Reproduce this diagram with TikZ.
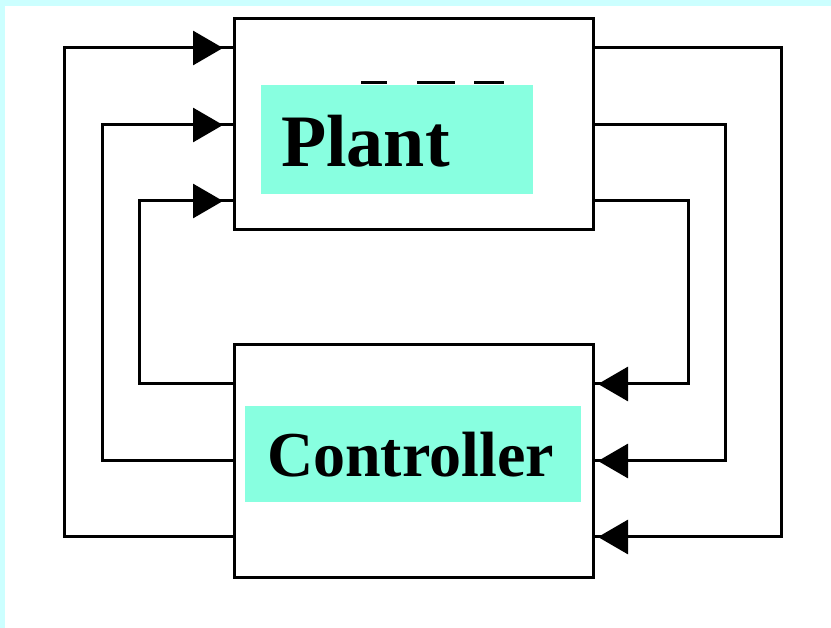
\documentclass[tikz,border=0pt]{standalone}
\usepackage{fontspec}
\setmainfont{Liberation Serif}
\usetikzlibrary{arrows.meta,decorations.markings}
\definecolor{bordercyan}{RGB}{204,255,255}
\definecolor{labelfill}{RGB}{136,255,224}
\tikzset{
  x=1pt, y=-1pt,
  block/.style={draw, line width=3pt, fill=none, outer sep=0pt, inner sep=0pt, rectangle},
  conn/.style={line width=3pt, line join=miter},
  arrtip/.style={postaction={decorate}, decoration={markings, mark=at position #1 with {\arrow{Triangle[length=30pt,width=34pt]}}}},
  labelbg/.style={fill=labelfill, draw=none},
  labeltext/.style={anchor=base west, inner sep=0pt, font=\bfseries\fontsize{#1}{#1}\selectfont}
}
\begin{document}
\begin{tikzpicture}
\useasboundingbox (0,0) rectangle (831,628);
\fill[white] (0,0) rectangle (831,628);
\fill[bordercyan] (0,0) rectangle (831,6);
\fill[bordercyan] (0,0) rectangle (5,628);
% boxes
\node[block, minimum width=359pt, minimum height=211pt] (plant) at (413.5,124.5) {};
\node[block, minimum width=359pt, minimum height=232pt] (ctrl) at (413.5,461) {};
% small marks
\draw[line width=3pt] (361,83) -- (387,83) (417,83) -- (455,83) (474,83) -- (504,83);
% labels
\fill[labelbg] (261,85) rectangle (533,194);
\node[labeltext=74] (plabel) at (281,167) {Plant};
\fill[labelbg] (245,406) rectangle (581,502);
\node[labeltext=64] (clabel) at (267,477) {Controller};
% left connectors (controller -> plant)
\draw[conn, arrtip=-11pt] (ctrl.west |- 0,537) -- (64,537) |- (plant.west |- 0,48);
\draw[conn, arrtip=-11pt] (ctrl.west |- 0,461) -- (102,461) |- (plant.west |- 0,125);
\draw[conn, arrtip=-11pt] (ctrl.west |- 0,384) -- (139,384) |- (plant.west |- 0,201);
% right connectors (plant -> controller)
\draw[conn, arrtip=-5pt] (plant.east |- 0,48) -- (781,48) |- (ctrl.east |- 0,537);
\draw[conn, arrtip=-5pt] (plant.east |- 0,125) -- (725,125) |- (ctrl.east |- 0,461);
\draw[conn, arrtip=-5pt] (plant.east |- 0,201) -- (688,201) |- (ctrl.east |- 0,384);
\end{tikzpicture}
\end{document}
